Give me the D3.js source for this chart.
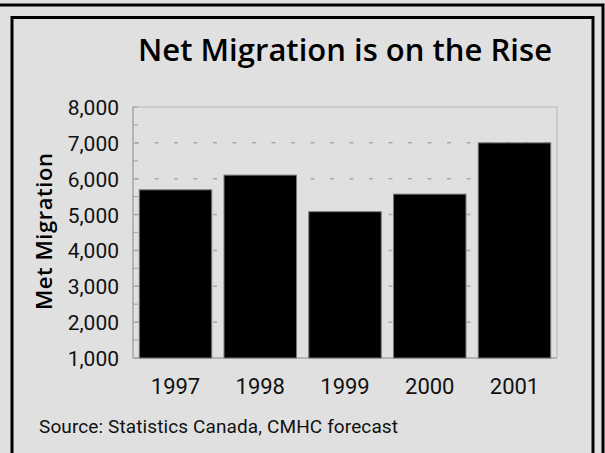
<!DOCTYPE html>
<html>
<head>
<meta charset="utf-8">
<script src="https://cdn.jsdelivr.net/npm/d3@7"></script>
<style>
  html, body { margin: 0; padding: 0; background: #e0e0e0; }
  svg { display: block; }
</style>
</head>
<body>
<script>
const years = ["1997", "1998", "1999", "2000", "2001"];
const netMigration = [5690, 6100, 5080, 5570, 7000];
const yTicks = [1000, 2000, 3000, 4000, 5000, 6000, 7000, 8000];
const minorTicks = d3.range(1000, 8001, 500);
const gridValues = [2000, 3000, 4000, 5000, 6000, 7000];

const W = 605, H = 453;
const svg = d3.select("body").append("svg").attr("width", W).attr("height", H);
svg.append("rect").attr("width", W).attr("height", H).attr("fill", "#e0e0e0");

// frames
svg.append("path").attr("d", `M0,5 H603 V${H}`).attr("fill", "none").attr("stroke", "#000").attr("stroke-width", 3);
svg.append("path").attr("d", `M12,${H} V17.5 H593 V${H}`).attr("fill", "none").attr("stroke", "#000").attr("stroke-width", 3);

const plot = {left: 133, right: 557, top: 107, bottom: 358};
const x = d3.scaleBand().domain(years).range([plot.left, plot.right]).paddingInner(0.145).paddingOuter(0.074);
const y = d3.scaleLinear().domain([1000, 8000]).range([plot.bottom, plot.top]);

const font = "Roboto, 'Liberation Sans', sans-serif";
const font2 = "'Open Sans', Roboto, sans-serif";

// gridlines
svg.append("g").selectAll("line").data(gridValues).join("line")
  .attr("x1", plot.left + 2).attr("x2", plot.right - 2)
  .attr("y1", d => y(d)).attr("y2", d => y(d))
  .attr("stroke", "#aaaaaa").attr("stroke-width", 1.5).attr("stroke-dasharray", "4,15.5");

// plot frame
svg.append("rect").attr("x", plot.left).attr("y", plot.top)
  .attr("width", plot.right - plot.left).attr("height", plot.bottom - plot.top)
  .attr("fill", "none").attr("stroke", "#c4c4c4").attr("stroke-width", 1.5);
svg.append("line").attr("x1", plot.left).attr("x2", plot.left).attr("y1", plot.top).attr("y2", plot.bottom)
  .attr("stroke", "#b4b4b4").attr("stroke-width", 2);
svg.append("line").attr("x1", plot.left).attr("x2", plot.right).attr("y1", plot.bottom).attr("y2", plot.bottom)
  .attr("stroke", "#b4b4b4").attr("stroke-width", 2);

// minor ticks
svg.append("g").selectAll("line").data(minorTicks).join("line")
  .attr("x1", plot.left).attr("x2", plot.left + 5)
  .attr("y1", d => y(d)).attr("y2", d => y(d))
  .attr("stroke", "#a8a8a8").attr("stroke-width", 1.2);

// bars
svg.append("g").selectAll("rect").data(years).join("rect")
  .attr("x", d => x(d)).attr("width", x.bandwidth())
  .attr("y", (d, i) => y(netMigration[i]))
  .attr("height", (d, i) => y(1000) - y(netMigration[i]))
  .attr("fill", "#000").attr("stroke", "#777").attr("stroke-width", 1);

// y axis labels
const yAxis = d3.axisLeft(y).tickValues(yTicks).tickFormat(d3.format(",")).tickSize(0).tickPadding(0);
const gy = svg.append("g").attr("transform", `translate(119,0)`).call(yAxis);
gy.select(".domain").remove();
gy.selectAll("text").attr("font-family", font).attr("font-size", 21).attr("fill", "#111").attr("dy", "0.36em");

// x axis labels
const xAxis = d3.axisBottom(x).tickSize(0).tickPadding(0);
const gx = svg.append("g").attr("transform", `translate(0,394)`).call(xAxis);
gx.select(".domain").remove();
gx.selectAll("text").attr("font-family", font).attr("font-size", 22).attr("fill", "#111").attr("dy", 0);

// title
svg.append("text").attr("x", 138).attr("y", 61)
  .attr("font-family", font2).attr("font-weight", 600).attr("font-size", 31).attr("fill", "#000")
  .attr("textLength", 414).attr("lengthAdjust", "spacing")
  .text("Net Migration is on the Rise");

// y axis title
svg.append("text").attr("transform", "translate(52,310) rotate(-90)")
  .attr("font-family", font2).attr("font-weight", 600).attr("font-size", 22).attr("fill", "#000")
  .attr("textLength", 157).attr("lengthAdjust", "spacing")
  .text("Met Migration");

// source
svg.append("text").attr("x", 39).attr("y", 433)
  .attr("font-family", font).attr("font-size", 19).attr("fill", "#111")
  .attr("textLength", 359).attr("lengthAdjust", "spacing")
  .text("Source: Statistics Canada, CMHC forecast");
</script>
</body>
</html>
